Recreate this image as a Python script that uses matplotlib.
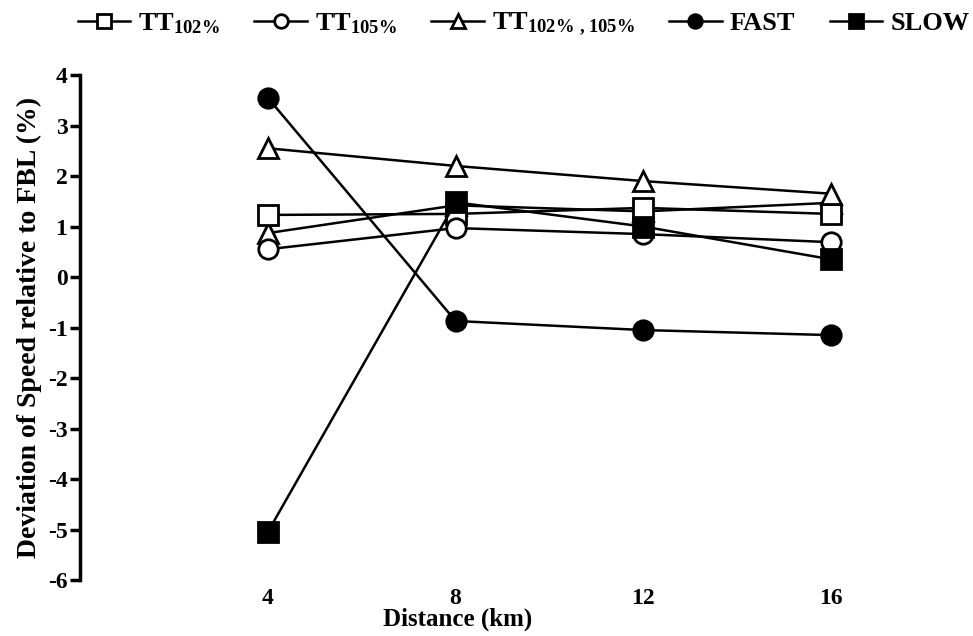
import matplotlib.pyplot as plt
import numpy as np

plt.rcParams['font.family'] = 'Liberation Serif'
plt.rcParams['font.weight'] = 'bold'
plt.rcParams['mathtext.fontset'] = 'custom'
plt.rcParams['mathtext.rm'] = 'Liberation Serif:bold'
plt.rcParams['mathtext.bf'] = 'Liberation Serif:bold'
plt.rcParams['mathtext.default'] = 'rm'
plt.rcParams['axes.unicode_minus'] = False

# distance points (km)
distance = [4, 8, 12, 16]

# deviation of speed relative to FBL (%)
tt102 = [1.23, 1.25, 1.37, 1.25]
tt105 = [0.55, 0.97, 0.85, 0.69]
tt102_105_low = [0.87, 1.42, 1.30, 1.47]
tt102_105 = [2.55, 2.20, 1.90, 1.65]
fast = [3.55, -0.87, -1.05, -1.15]
slow = [-5.05, 1.48, 1.00, 0.35]

fig = plt.figure(figsize=(9.73, 6.36), dpi=100)
ax = fig.add_axes([0.0822, 0.088, 0.9024, 0.794])

style = dict(color='black', lw=1.8, ms=14, mew=2)
ax.plot(distance, tt102_105_low, marker='^', mfc='white', **style)
l1, = ax.plot(distance, tt102, marker='s', mfc='white', **style)
l2, = ax.plot(distance, tt105, marker='o', mfc='white', **style)
l3, = ax.plot(distance, tt102_105, marker='^', mfc='white', **style)
l4, = ax.plot(distance, fast, marker='o', mfc='black', **style)
l5, = ax.plot(distance, slow, marker='s', mfc='black', **style)

ax.set_xlim(0, 18.7)
ax.set_ylim(-6, 4)
ax.set_xticks(distance)
ax.set_yticks(np.arange(-6, 5, 1))
ax.spines['top'].set_visible(False)
ax.spines['right'].set_visible(False)
ax.spines['bottom'].set_visible(False)
ax.spines['left'].set_linewidth(2.5)
ax.tick_params(axis='y', length=7, width=2.5, labelsize=17, pad=2)
ax.tick_params(axis='x', length=0, labelsize=17, pad=6)
ax.set_xlabel('Distance (km)', fontsize=18, fontweight='bold', labelpad=0)
ax.xaxis.set_label_coords(0.43, -0.055)
ax.set_ylabel('Deviation of Speed relative to FBL (%)', fontsize=20, fontweight='bold', labelpad=4)

labels = ['TT$_{102\\%}$', 'TT$_{105\\%}$', 'TT$_{102\\%\\ ,105\\%}$', 'FAST', 'SLOW']
fig.legend([l1, l2, l3, l4, l5], labels, loc='upper center', bbox_to_anchor=(0.538, 1.02),
           ncol=5, frameon=False, fontsize=19, handlelength=2.0, handletextpad=0.3,
           columnspacing=1.3, markerscale=0.7)

fig.savefig('out.png', dpi=100)
